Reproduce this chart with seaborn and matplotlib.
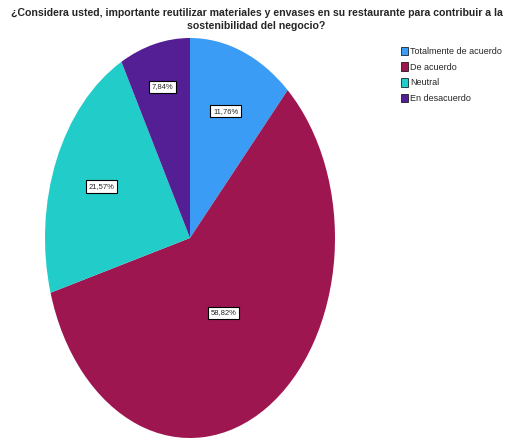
import numpy as np
import matplotlib
matplotlib.use('Agg')
import matplotlib.pyplot as plt
import seaborn as sns
from matplotlib.patches import Patch

categories = ['Totalmente de acuerdo', 'De acuerdo', 'Neutral', 'En desacuerdo']
percentages = [11.76, 58.82, 21.57, 7.84]
labels = ['11,76%', '58,82%', '21,57%', '7,84%']
colors = ['#3a9cf4', '#9e1650', '#22cdc9', '#541f94']
label_radius = [0.68, 0.44, 0.66, 0.78]  # how far out SPSS put each box
title = ('¿Considera usted, importante reutilizar materiales y envases en su restaurante para contribuir a la\n'
         'sostenibilidad del negocio?')

sns.set_style('white')
plt.rcParams['font.family'] = ['Liberation Sans', 'DejaVu Sans']

fig = plt.figure(figsize=(5.08, 4.38), dpi=100)
ax = fig.add_axes([45 / 508, 0.0, 290 / 508, 1 - 38 / 438])

wedges, _ = ax.pie(percentages, colors=colors, startangle=90, counterclock=False,
                   wedgeprops={'linewidth': 0})
ax.set_aspect('auto')
ax.set_xlim(-1, 1)
ax.set_ylim(-1, 1)
ax.axis('off')

for w, lab, r in zip(wedges, labels, label_radius):
    ang = np.deg2rad((w.theta1 + w.theta2) / 2)
    ax.text(r * np.cos(ang), r * np.sin(ang), lab, ha='center', va='center', fontsize=5.5,
            bbox={'boxstyle': 'square,pad=0.35', 'fc': 'white', 'ec': 'black', 'lw': 0.8})

fig.text(0.505, 0.981, title, ha='center', va='top', fontsize=7.6, fontweight='bold',
         linespacing=1.3)

handles = [Patch(facecolor=c, edgecolor='black', linewidth=0.5) for c in colors]
fig.legend(handles, categories, loc='upper left', bbox_to_anchor=(396 / 508, 1 - 42 / 438),
           frameon=False, fontsize=6.5, handlelength=0.8, handleheight=1.1,
           handletextpad=0.25, labelspacing=0.7, borderpad=0)

fig.savefig('out.png', dpi=100)
